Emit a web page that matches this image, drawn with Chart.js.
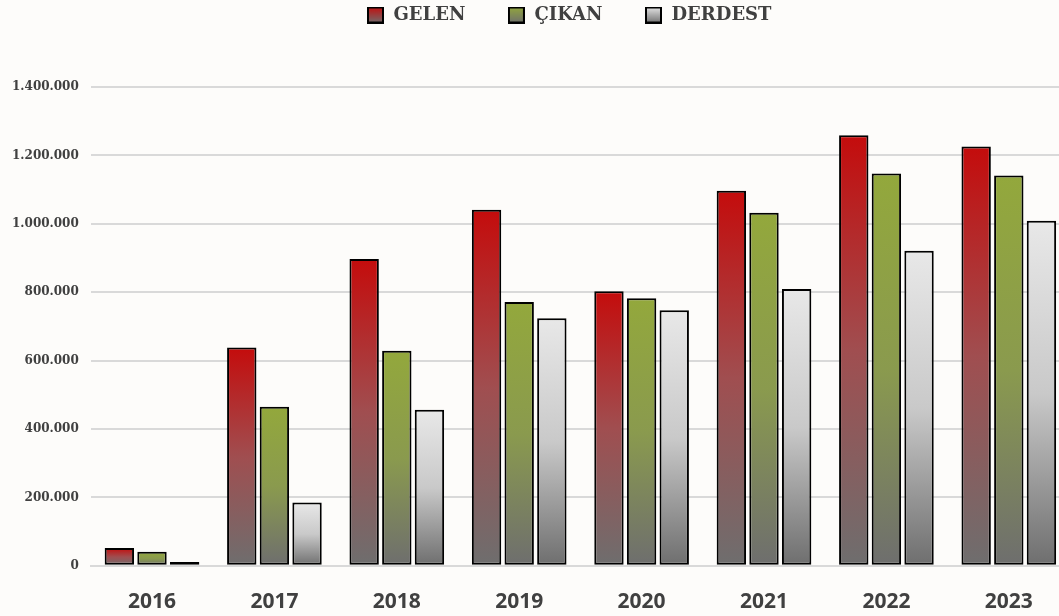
<!DOCTYPE html>
<html lang="tr">
<head>
  <meta charset="utf-8">
  <title>Gelen / Çıkan / Derdest</title>
  <script src="https://cdn.jsdelivr.net/npm/chart.js@4.4.0/dist/chart.umd.min.js"></script>
  <style>
    html, body { margin: 0; padding: 0; background: #fdfcfa; overflow: hidden; }
    #wrap { width: 1070px; height: 616px; }
  </style>
</head>
<body>
  <div id="wrap"><canvas id="chart"></canvas></div>

  <script>
    var years = ["2016", "2017", "2018", "2019", "2020", "2021", "2022", "2023"];
    var gelen = [52000, 638000, 897000, 1041000, 803000, 1097000, 1259000, 1226000];
    var cikan = [41000, 465000, 629000, 771000, 782000, 1032000, 1147000, 1141000];
    var derdest = [11000, 185000, 456000, 724000, 747000, 809000, 921000, 1009000];
    var yTicks = [0, 200000, 400000, 600000, 800000, 1000000, 1200000, 1400000];

    var textColor = "#404040";
    var bottomGray = "#6e6e6e";

    // gradient from bar top to its base, top colour fading to grey
    function barFill(topColor, midColor) {
      return function (ctx) {
        var chart = ctx.chart;
        if (ctx.type !== "data" || !chart.chartArea) return topColor;
        var y = chart.scales.y;
        var top = y.getPixelForValue(ctx.raw);
        var base = y.getPixelForValue(0);
        if (base - top < 1) return topColor;
        var g = chart.ctx.createLinearGradient(0, top, 0, base);
        g.addColorStop(0, topColor);
        g.addColorStop(0.5, midColor);
        g.addColorStop(1, bottomGray);
        return g;
      };
    }

    function legendBox(topColor) {
      var c = document.createElement("canvas");
      c.width = 17; c.height = 17;
      var x = c.getContext("2d");
      var g = x.createLinearGradient(0, 0, 0, 17);
      g.addColorStop(0, topColor);
      g.addColorStop(1, bottomGray);
      x.fillStyle = "#000";
      x.fillRect(0, 0, 17, 17);
      x.fillStyle = g;
      x.fillRect(2, 2, 13, 13);
      return c;
    }

    // fixed legend block height, and legend drawn higher / further right
    var legendPlace = {
      id: "legendPlace",
      beforeInit: function (chart) {
        var lg = chart.legend;
        var fit = lg.fit;
        lg.fit = function () {
          fit.bind(lg)();
          this.height = 85;
        };
        var draw = lg.draw;
        lg.draw = function () {
          var c = chart.ctx;
          c.save();
          c.translate(34, -38);
          draw.apply(lg, arguments);
          c.restore();
        };
      }
    };

    var tops = ["#c40c0c", "#93a83c", "#e8e8e8"];
    var mids = ["#a04e50", "#8a9a4e", "#c9c9c9"];

    new Chart(document.getElementById("chart"), {
      type: "bar",
      data: {
        labels: years,
        datasets: [
          { label: "GELEN", data: gelen, backgroundColor: barFill(tops[0], mids[0]), pointStyle: legendBox(tops[0]) },
          { label: "ÇIKAN", data: cikan, backgroundColor: barFill(tops[1], mids[1]), pointStyle: legendBox(tops[1]) },
          { label: "DERDEST", data: derdest, backgroundColor: barFill(tops[2], mids[2]), pointStyle: legendBox(tops[2]) }
        ]
      },
      plugins: [legendPlace],
      options: {
        responsive: true,
        maintainAspectRatio: false,
        animation: false,
        layout: { padding: { left: 0, top: 2, right: 0, bottom: -15 } },
        datasets: {
          bar: {
            borderColor: "#000",
            borderWidth: 2,
            borderSkipped: false,
            categoryPercentage: 0.8,
            barPercentage: 0.9
          }
        },
        plugins: {
          tooltip: { enabled: false },
          legend: {
            position: "top",
            labels: {
              usePointStyle: true,
              padding: 42,
              color: textColor,
              font: { family: "DejaVu Serif", size: 18, weight: "bold" }
            }
          }
        },
        scales: {
          x: {
            grid: { display: false },
            border: { display: true, color: "#d9d9d9", width: 2 },
            ticks: {
              color: textColor,
              padding: 16,
              font: { family: "Open Sans", size: 21, weight: "bold" }
            }
          },
          y: {
            min: 0,
            max: yTicks[yTicks.length - 1],
            afterBuildTicks: function (axis) {
              axis.ticks = yTicks.map(function (v) { return { value: v }; });
            },
            grid: { color: "#d9d9d9", lineWidth: 2, drawTicks: false },
            border: { display: false },
            ticks: {
              color: textColor,
              padding: 12,
              font: { family: "DejaVu Serif", size: 12, weight: "bold" },
              callback: function (v) { return Number(v).toLocaleString("de-DE"); }
            }
          }
        }
      }
    });
  </script>
</body>
</html>
